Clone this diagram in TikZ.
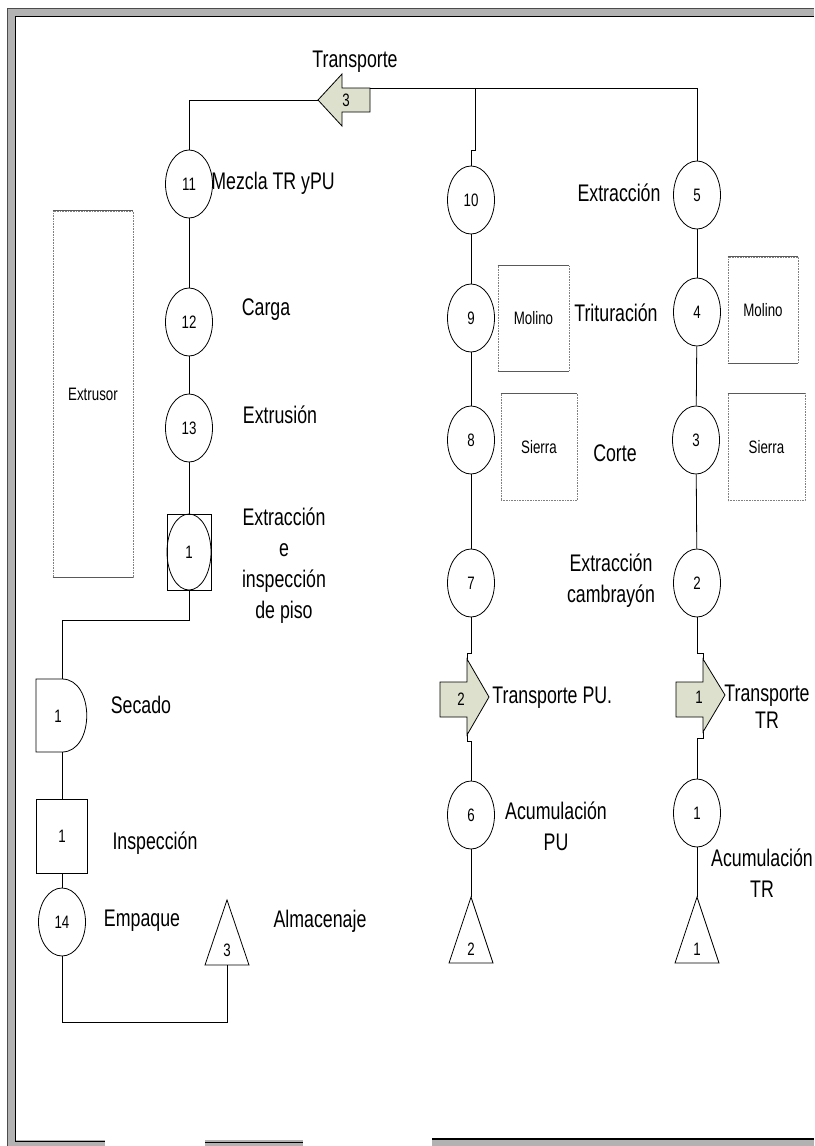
\documentclass[tikz,border=0pt]{standalone}
\usepackage{fontspec}
\setmainfont[FakeStretch=0.74]{Liberation Sans}
\usetikzlibrary{shapes.geometric, positioning}
\definecolor{framegray}{RGB}{178,178,178}
\definecolor{movefill}{RGB}{220,224,204}
\tikzset{
  base/.style = {draw, line width=0.8pt, inner sep=0pt, font=\fontsize{18}{20}\selectfont},
  lbl/.style  = {font=\fontsize{24}{31}\selectfont, align=center, inner sep=0pt},
}

\begin{document}
\begin{tikzpicture}[x=1pt, y=-1pt, line width=0.8pt,
    oper/.style  = {base, ellipse, minimum width=47pt, minimum height=68pt},
    insp/.style  = {base, rectangle, minimum width=51pt, minimum height=74pt},
    equip/.style = {draw=gray, densely dotted, line width=0.6pt, inner sep=0pt,
                    font=\fontsize{18}{20}\selectfont},
    rim/.style   = {draw=gray!70!black, line width=1.2pt},
    move/.style  = {draw, fill=movefill, line width=0.8pt},
    num/.style   = {font=\fontsize{18}{20}\selectfont, inner sep=0pt},
  ]
  \useasboundingbox (0,0) rectangle (814,1146);

  % frame
  \fill[framegray] (7,8) rectangle (814,1146);
  \draw[gray!60!black, line width=1pt] (7,1146) -- (7,8) -- (814,8);
  \fill[white] (15,16) rectangle (814,1140);
  \fill[white] (105,1140) rectangle (205,1146);
  \fill[white] (303,1140) rectangle (432,1146);
  \draw[line width=1pt] (15,1141) -- (15,16) -- (814,16);
  \draw[line width=1pt] (15,1141) -- (105,1141);
  \draw[line width=1pt] (205,1142) -- (303,1142);
  \draw[line width=1.5pt] (432,1139) -- (814,1139);

  % transport 3 (to the mixer)
  \draw[move] (370,88) -- (342,88) -- (342,74) -- (318,100) -- (342,126)
              -- (342,112) -- (370,112) -- cycle;
  \coordinate (a3tip)  at (318,100);
  \coordinate (a3tail) at (370,88);
  \coordinate (topM)   at (475,88);
  \coordinate (topR)   at (697,88);
  \node[num] (a3) at (346,100) {3};
  \node[lbl] (transp3) at (355,62) {Transporte};

  % left column
  \node[oper] (c11) at (189,184) {11};
  \node[oper] (c12) at (189,322) {12};
  \node[oper] (c13) at (189,428) {13};
  \node[insp, minimum width=44pt, minimum height=76pt] (b1) at (189,552) {};
  \node[oper, minimum width=44pt, minimum height=76pt] (c1) at (189,552) {1};
  \draw (62,679) -- (36,679) -- (36,752) -- (62,752)
        .. controls (95,752) and (95,679) .. (62,679);
  \coordinate (secTop) at (62,679);
  \coordinate (secBot) at (62,752);
  \node[num] (sec) at (58,716) {1};
  \node[insp] (insp1) at (62,836) {1};
  \node[oper] (c14) at (62,922) {14};
  \draw (205,965) -- (227,900) -- (249,965) -- cycle;
  \coordinate (t3base) at (227,965);
  \node[num] (t3) at (227,950) {3};

  \node[lbl, anchor=west] (mezcla) at (211,183) {Mezcla TR yPU};
  \node[lbl] (carga)   at (266,310) {Carga};
  \node[lbl] (extrus)  at (280,415) {Extrusión};
  \node[lbl] (extrac1) at (284,566) {Extracción\\e\\inspección\\de piso};
  \node[lbl] (secado)  at (141,705) {Secado};
  \node[lbl] (inspec)  at (155,843) {Inspección};
  \node[lbl] (empaque) at (142,921) {Empaque};
  \node[lbl] (almac)   at (320,921) {Almacenaje};

  \node[equip, minimum width=80pt, minimum height=366pt] (extrusor) at (93,394) {Extrusor};
  \draw[rim] (extrusor.north west) -- (extrusor.north east)
             (extrusor.south west) -- (extrusor.south east);

  % middle column (PU)
  \node[oper] (c10) at (471,200) {10};
  \node[oper] (c9)  at (471,318) {9};
  \node[oper] (c8)  at (471,440) {8};
  \node[oper] (c7)  at (471,583) {7};
  \draw[move] (440,682) -- (467,682) -- (467,659) -- (489,697) -- (467,735)
              -- (467,717) -- (440,717) -- cycle;
  \coordinate (a2top) at (467,659);
  \coordinate (a2bot) at (467,735);
  \node[num] (a2) at (461,699) {2};
  \node[oper] (c6)  at (471,815) {6};
  \draw (449,963) -- (471,897) -- (493,963) -- cycle;
  \coordinate (t2top) at (471,897);
  \node[num] (t2) at (471,949) {2};

  \node[equip, minimum width=71pt, minimum height=106pt] (molino1) at (533.5,318.5) {Molino};
  \node[equip, minimum width=76pt, minimum height=107pt] (sierra1) at (539,447) {Sierra};
  \draw[rim] (molino1.north west) -- (molino1.north east)
             (molino1.south west) -- (molino1.south east)
             (sierra1.north west) -- (sierra1.north east);

  \node[lbl] (extrac2) at (619,193) {Extracción};
  \node[lbl] (tritur)  at (616,313) {Trituración};
  \node[lbl] (corte)   at (615,453) {Corte};
  \node[lbl] (extrac3) at (611,581) {Extracción\\cambrayón};
  \node[lbl, anchor=west] (transp2) at (492,698) {Transporte PU.};
  \node[lbl] (acumPU)  at (556,826) {Acumulación\\PU};

  % right column (TR)
  \node[oper] (c5)  at (697,195) {5};
  \node[oper] (c4)  at (697,312) {4};
  \node[oper] (c3)  at (696,440) {3};
  \node[oper] (c2)  at (697,583) {2};
  \draw[move] (676,682) -- (703,682) -- (703,659) -- (725,695) -- (703,732)
              -- (703,717) -- (676,717) -- cycle;
  \coordinate (a1top) at (703,659);
  \coordinate (a1bot) at (703,732);
  \node[num] (a1) at (699,697) {1};
  \node[oper] (c1r) at (697,813) {1};
  \draw (675,963) -- (697,897) -- (719,963) -- cycle;
  \coordinate (t1top) at (697,897);
  \node[num] (t1) at (697,949) {1};

  \node[equip, minimum width=70pt, minimum height=106pt] (molino2) at (763,310) {Molino};
  \node[equip, minimum width=77pt, minimum height=107pt] (sierra2) at (766.5,447) {Sierra};
  \draw[rim] (molino2.north west) -- (molino2.north east)
             (molino2.south west) -- (molino2.south east)
             (sierra2.north west) -- (sierra2.north east);

  \node[lbl] (transp1) at (767,707) {Transporte\\[-4pt]TR};
  \node[lbl] (acumTR)  at (762,873) {Acumulación\\TR};

  % flow lines
  \draw (a3tail) -- (topR) -- (c5.north);
  \draw (topM) -- ++(0,62) -| (c10.north);
  \draw (a3tip) -| (c11.north);
  \draw (c11) -- (c12);
  \draw (c12) -- (c13);
  \draw (c13) -- (b1);
  \draw (b1.south) -- ++(0,30) -| (secTop);
  \draw (secBot) -- (insp1);
  \draw (insp1) -- (c14);
  \draw (c14.south) -- ++(0,66) -| (t3base);

  \draw (c10) -- (c9);
  \draw (c9) -- (c8);
  \draw (c8) -- (c7);
  \draw (c7.south) |- ([yshift=6pt]a2top) -- (a2top);
  \draw (a2bot) -- ++(0,6) -| (c6.north);
  \draw (c6) -- (t2top);

  \draw (c5) -- (c4);
  \draw (c4) -- (c3);
  \draw (c3) -- (c2);
  \draw (c2.south) |- ([yshift=6pt]a1top) -- (a1top);
  \draw (a1bot) -- ++(0,6) -| (c1r.north);
  \draw (c1r) -- (t1top);
\end{tikzpicture}
\end{document}
